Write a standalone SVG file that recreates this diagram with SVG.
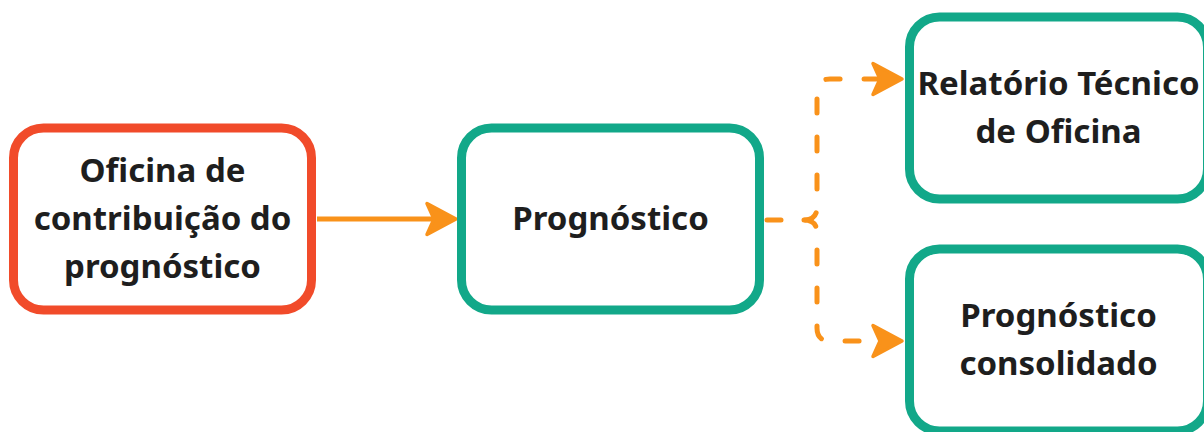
<svg xmlns="http://www.w3.org/2000/svg" width="1204" height="432" viewBox="0 0 1204 432">
<defs>
<style>
.box{fill:#ffffff;stroke-width:9}
.red{stroke:#F14B2A}
.green{stroke:#12A889}
.lbl{font-family:"Noto Sans","Open Sans","Liberation Sans",sans-serif;font-weight:700;font-size:33px;fill:#1e1e1e;text-anchor:middle}
.conn{fill:none;stroke:#F9921A;stroke-width:5}
.dash{stroke-dasharray:14 24;stroke-linecap:round}
</style>
<marker id="arr" markerUnits="userSpaceOnUse" markerWidth="60" markerHeight="60" refX="0" refY="0" orient="auto" overflow="visible">
<path d="M20,0 L-9,-15.5 L-2,0 L-9,15.5 Z" fill="#F9921A" stroke="#F9921A" stroke-width="3.5" stroke-linejoin="round"/>
</marker>
</defs>
<rect width="1204" height="432" fill="#ffffff"/>
<g id="connectors">
<path class="conn" d="M317,219 H436" marker-end="url(#arr)"/>
<path class="conn dash" d="M767,220 H804 Q817,220 817,207 V92 Q817,79 830,79 H882" marker-end="url(#arr)"/>
<path class="conn dash" d="M804,220 Q817,220 817,233 V328 Q817,341 830,341 H882" marker-end="url(#arr)"/>
</g>
<g id="node1">
<rect class="box red" x="13.5" y="128" width="298" height="182" rx="30"/>
<text class="lbl" x="162.5" y="182">Oficina de</text>
<text class="lbl" x="162.5" y="230">contribuição do</text>
<text class="lbl" x="162.5" y="278">prognóstico</text>
</g>
<g id="node2">
<rect class="box green" x="461.5" y="128" width="298" height="182" rx="30"/>
<text class="lbl" x="610.5" y="230">Prognóstico</text>
</g>
<g id="node3">
<rect class="box green" x="909.5" y="17" width="298" height="182" rx="30"/>
<text class="lbl" x="1058.5" y="95">Relatório Técnico</text>
<text class="lbl" x="1058.5" y="143">de Oficina</text>
</g>
<g id="node4">
<rect class="box green" x="909.5" y="249" width="298" height="182" rx="30"/>
<text class="lbl" x="1058.5" y="327">Prognóstico</text>
<text class="lbl" x="1058.5" y="375">consolidado</text>
</g>
</svg>
